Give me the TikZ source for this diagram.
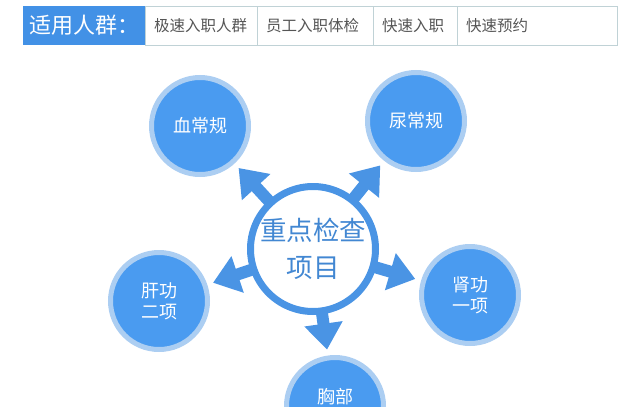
\documentclass[tikz,border=0pt]{standalone}
\usepackage{fontspec}
\setmainfont{Noto Sans CJK SC}
\usepackage{xcolor}
\usetikzlibrary{arrows.meta,positioning}
\definecolor{barblue}{RGB}{66,145,230}
\definecolor{cellgray}{RGB}{192,210,214}
\definecolor{celltext}{RGB}{85,85,85}
\definecolor{itemblue}{RGB}{74,155,240}
\definecolor{itemrim}{RGB}{172,206,242}
\definecolor{ringblue}{RGB}{74,148,228}
\definecolor{hubtext}{RGB}{66,135,210}

\begin{document}
\begin{tikzpicture}[x=1pt,y=-1pt,
    cell/.style={draw=cellgray, fill=white, line width=1pt, minimum height=39pt, inner xsep=9pt, inner ysep=0pt, outer sep=0pt, align=left, font=\fontsize{15.5}{18}\selectfont, text=celltext},
    item/.style={circle, fill=itemblue, draw=itemrim, line width=5pt, minimum size=97pt, inner sep=0pt, text=white, align=center, font=\fontsize{18}{21}\selectfont},
    spoke/.style={draw=ringblue, line width=12pt, -{Triangle[width=37pt,length=26pt]}, shorten >=6pt, shorten <=-4pt}]
    \useasboundingbox (0,0) rectangle (640,407);
    \node[fill=barblue, minimum width=122pt, minimum height=39pt, outer sep=0pt, anchor=north west, text=white, font=\fontsize{22}{24}\selectfont] (who) at (23,6) {适用人群：};
    \node[cell, text width=94pt, right=0pt of who] (c1) {极速入职人群};
    \node[cell, text width=98pt, right=0pt of c1] (c2) {员工入职体检};
    \node[cell, text width=66pt, right=0pt of c2] (c3) {快速入职};
    \node[cell, text width=142pt, right=0pt of c3] (c4) {快速预约};

    \node[circle, draw=ringblue, line width=7pt, minimum size=125pt, inner sep=0pt, text=hubtext, align=center, font=\fontsize{26.5}{37}\selectfont] (hub) at (313,249) {重点检查\\项目};
    \node[item] (blood) at (200,126) {血常规};
    \node[item] (urine) at (416,121) {尿常规};
    \node[item] (kidney) at (470,295) {肾功\\一项};
    \node[item] (liver) at (159,301) {肝功\\二项};
    \node[item] (chest) at (335,406) {\raisebox{3pt}[0pt][0pt]{胸部}};
    \foreach \t in {blood,urine,kidney,liver,chest}
        \draw[spoke] (hub) -- (\t);
\end{tikzpicture}
\end{document}
